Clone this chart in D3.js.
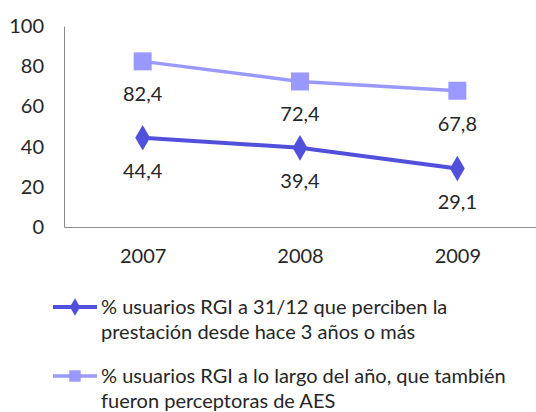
<!DOCTYPE html>
<html>
<head>
<meta charset="utf-8">
<script src="https://cdn.jsdelivr.net/npm/d3@7"></script>
<style>
  body { margin: 0; background: #fff; }
  svg text { font-family: Lato, "Liberation Sans", sans-serif; fill: #262626; }
</style>
</head>
<body>
<svg id="chart" width="536" height="412"></svg>
<script>
// categories and values
const years = ["2007", "2008", "2009"];
const yTicks = [0, 20, 40, 60, 80, 100];
const serieLargo = [82.4, 72.4, 67.8];
const serieTres = [44.4, 39.4, 29.1];
const legendLargo = ["% usuarios RGI a lo largo del año, que también",
  "fueron perceptoras de AES"];
const legendTres = ["% usuarios RGI a 31/12 que perciben la",
  "prestación desde hace 3 años o más"];

const svg = d3.select("svg#chart");
const margin = {left: 64, right: 0, top: 26, bottom: 185};
const w = svg.attr("width") - margin.left - margin.right;
const h = svg.attr("height") - margin.top - margin.bottom;

const xScale = d3.scalePoint().domain(years).range([0, w]).padding(0.5);
const yScale = d3.scaleLinear().domain([0, 100]).range([h, 0]);

const g = svg.append("g")
    .attr("transform", "translate(" + margin.left + ", " + margin.top + ")");

// axes without tick marks
const yAxis = g.append("g")
    .call(d3.axisLeft(yScale).tickValues(yTicks).tickSize(0).tickPadding(20));
yAxis.select(".domain").attr("stroke", "#8c8c8c");
yAxis.selectAll("text").attr("font-size", 20).attr("font-family", null)
    .style("fill", "#262626");

const xAxis = g.append("g")
    .attr("transform", "translate(0, " + h + ")")
    .call(d3.axisBottom(xScale).tickSize(0).tickSizeOuter(0).tickPadding(22));
xAxis.select(".domain").attr("stroke", "#8c8c8c");
xAxis.selectAll("text").attr("font-size", 20).attr("font-family", null)
    .style("fill", "#262626");

const series = [
  {values: serieLargo, color: "#9999ff", width: 3.5, shape: "square"},
  {values: serieTres, color: "#5050dc", width: 4, shape: "diamond"},
];

const line = d3.line()
    .x((d, i) => xScale(years[i]))
    .y((d) => yScale(d));

series.forEach((s) => {
  g.append("path")
      .datum(s.values)
      .attr("fill", "none")
      .attr("stroke", s.color)
      .attr("stroke-width", s.width)
      .attr("d", line);

  const sym = s.shape == "square" ?
    d3.symbol().type(d3.symbolSquare).size(324) :
    d3.symbol().type(d3.symbolDiamond).size(190);
  g.selectAll(null)
      .data(s.values)
      .join("path")
      .attr("d", sym)
      .attr("fill", s.color)
      .attr("transform", (d, i) =>
        "translate(" + xScale(years[i]) + ", " + yScale(d) + ")");

  // value labels sit below each point
  g.selectAll(null)
      .data(s.values)
      .join("text")
      .attr("x", (d, i) => xScale(years[i]))
      .attr("y", (d) => yScale(d) + 33)
      .attr("dy", "0.35em")
      .attr("text-anchor", "middle")
      .attr("font-size", 20)
      .text((d) => d.toFixed(1).replace(".", ","));
});

// legend
const legendItems = [
  {lines: legendTres, y: 307, color: "#5050dc", width: 4,
    sym: d3.symbol().type(d3.symbolDiamond).size(90)},
  {lines: legendLargo, y: 376, color: "#9999ff", width: 3.5,
    sym: d3.symbol().type(d3.symbolSquare).size(130)},
];
legendItems.forEach((it) => {
  const lg = svg.append("g");
  lg.append("line")
      .attr("x1", 53).attr("x2", 97)
      .attr("y1", it.y).attr("y2", it.y)
      .attr("stroke", it.color)
      .attr("stroke-width", it.width);
  lg.append("path")
      .attr("d", it.sym)
      .attr("fill", it.color)
      .attr("transform", "translate(75, " + it.y + ")");
  it.lines.forEach((txt, k) => {
    lg.append("text")
        .attr("x", 101)
        .attr("y", it.y + k * 25)
        .attr("dy", "0.35em")
        .attr("font-size", 20)
        .text(txt);
  });
});
</script>
</body>
</html>
